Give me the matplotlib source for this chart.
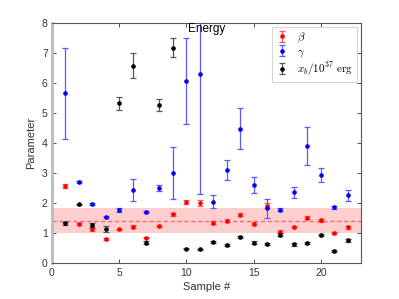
import numpy as np
import matplotlib
matplotlib.use("Agg")
import matplotlib.pyplot as plt

plt.rcParams['font.family'] = ['Liberation Sans', 'DejaVu Sans']
plt.rcParams['mathtext.fontset'] = 'cm'

samples = np.arange(1, 23)

beta = [2.57, 1.31, 1.13, 0.82, 1.13, 1.22, 0.86, 1.25, 1.63, 2.04, 2.02,
        1.35, 1.42, 1.62, 1.32, 1.92, 1.06, 1.22, 1.52, 1.43, 1.00, 1.20]
beta_err = [0.06, 0.03, 0.04, 0.03, 0.03, 0.05, 0.03, 0.03, 0.06, 0.06, 0.10,
            0.05, 0.04, 0.04, 0.05, 0.08, 0.04, 0.04, 0.04, 0.04, 0.03, 0.05]

gamma = [5.65, 2.71, 1.98, 1.53, 1.77, 2.44, 1.71, 2.51, 3.01, 6.06, 6.29,
         2.05, 3.11, 4.47, 2.60, 1.84, 1.78, 2.37, 3.91, 2.95, 1.86, 2.26]
gamma_lo = [1.52, 0.04, 0.04, 0.03, 0.06, 0.36, 0.03, 0.11, 0.88, 1.44, 3.98,
            0.22, 0.35, 0.68, 0.27, 0.32, 0.05, 0.18, 0.65, 0.25, 0.05, 0.19]
gamma_hi = [1.52, 0.04, 0.04, 0.03, 0.06, 0.35, 0.03, 0.11, 0.87, 1.42, 3.98,
            0.21, 0.34, 0.68, 0.26, 0.29, 0.05, 0.18, 0.64, 0.23, 0.05, 0.19]

xb = [1.33, 1.96, 1.28, 1.14, 5.32, 6.57, 0.69, 5.26, 7.17, 0.49, 0.47,
      0.71, 0.61, 0.89, 0.69, 0.65, 0.96, 0.63, 0.67, 0.94, 0.42, 0.77]
xb_err = [0.04, 0.03, 0.06, 0.10, 0.22, 0.41, 0.04, 0.19, 0.31, 0.02, 0.02,
          0.03, 0.03, 0.03, 0.04, 0.03, 0.05, 0.04, 0.03, 0.03, 0.04, 0.05]

band_lo, band_hi, band_mid = 1.0, 1.83, 1.42

fig = plt.figure(figsize=(3.99, 2.99), dpi=100)
ax = fig.add_axes([0.13, 0.119, 0.775, 0.805])

ax.axhspan(band_lo, band_hi, color=(1.0, 0.75, 0.75), alpha=0.75, lw=0, zorder=0)
ax.axhline(band_mid, color=(1.0, 0.4, 0.4), ls='--', lw=1.0, dashes=(3, 2), zorder=1)

ms = 2.3
ax.errorbar(samples, beta, yerr=beta_err, fmt='o', color='r', ms=ms,
            ecolor=(1, 0.35, 0.35), elinewidth=0.9, capsize=2, capthick=0.9,
            label=r'$\beta$', zorder=3)
ax.errorbar(samples, gamma, yerr=[gamma_lo, gamma_hi], fmt='o', color='b', ms=ms,
            ecolor=(0.35, 0.35, 1.0), elinewidth=0.9, capsize=2, capthick=0.9,
            label=r'$\gamma$', zorder=3)
ax.errorbar(samples, xb, yerr=xb_err, fmt='o', color='k', ms=ms,
            ecolor=(0.35, 0.35, 0.35), elinewidth=0.9, capsize=2, capthick=0.9,
            label=r'$x_b/10^{37}\ \mathrm{erg}$', zorder=3)

ax.set_xlim(0, 23)
ax.set_ylim(0, 8)
ax.set_xticks([0, 5, 10, 15, 20])
ax.set_yticks(range(0, 9))
ax.tick_params(direction='in', length=3, width=0.6, top=True, right=True,
               labelsize=7.5, colors='#333333', pad=3)
for s in ['top', 'right', 'bottom']:
    ax.spines[s].set_color('#555555')
    ax.spines[s].set_linewidth(0.8)
ax.spines['left'].set_color('#bbbbbb')
ax.spines['left'].set_linewidth(2.0)

ax.set_xlabel('Sample #', fontsize=8, color='#333333', labelpad=3)
ax.set_ylabel('Parameter', fontsize=8, color='#333333', labelpad=4)
ax.text(0.5, 0.998, 'Energy', transform=ax.transAxes, ha='center', va='top',
        fontsize=8.5, color='k')

leg = ax.legend(loc='upper right', fontsize=8, frameon=True, fancybox=False,
                edgecolor='#cccccc', borderpad=0.3, labelspacing=0.15,
                handlelength=1.2, handletextpad=0.8, borderaxespad=0.4)
leg.get_frame().set_linewidth(0.8)

fig.savefig('out.png', dpi=100)
